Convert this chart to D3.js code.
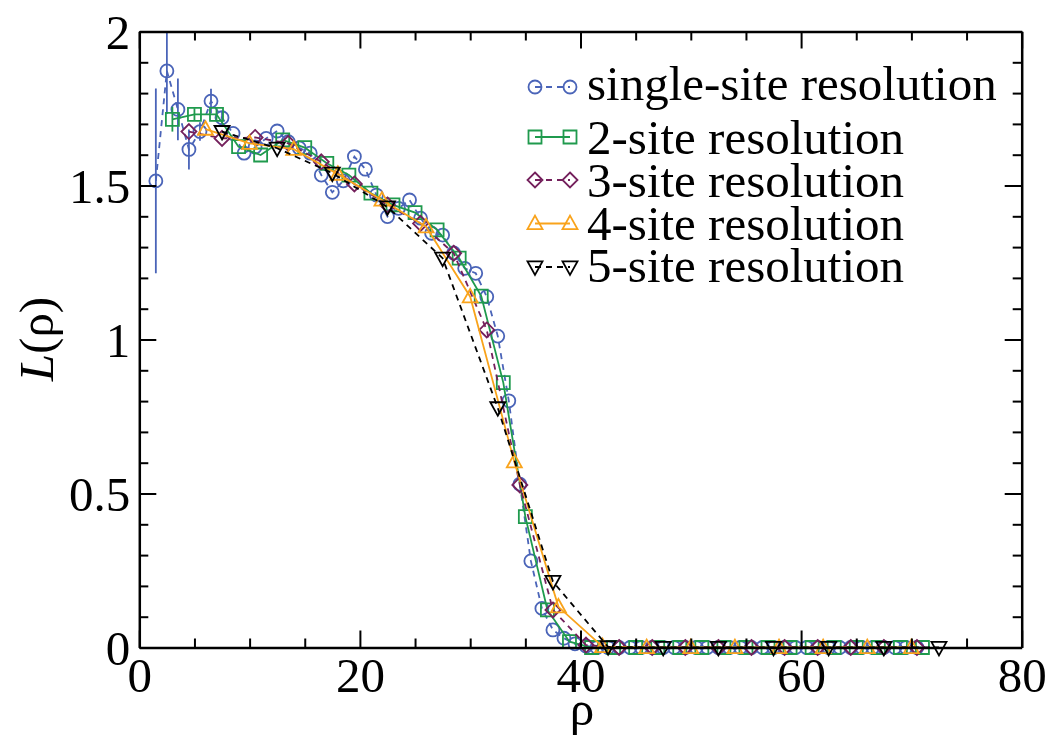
<!DOCTYPE html>
<html>
<head>
<meta charset="utf-8">
<script src="https://cdn.jsdelivr.net/npm/d3@7"></script>
<style>
  html, body { margin: 0; padding: 0; background: #fff; }
  svg { display: block; }
  text { font-family: "Liberation Serif", "Times New Roman", serif; fill: #000; }
</style>
</head>
<body>
<svg id="chart" width="1051" height="737"></svg>
<script>
// ---------------- data ----------------
const singleRho = [1.5,2.5,3.5,4.5,5.5,6.5,7.5,8.5,9.5,10.5,11.5,12.5,13.5,14.5,15.5,16.5,17.5,18.5,19.5,20.5,
  21.5,22.5,23.5,24.5,25.5,26.5,27.5,28.5,29.5,30.5,31.5,32.5,33.5,34.5,35.5,36.5,37.5,38.5,39.5,40.5,
  41.5,42.5,43.5,44.5,45.5,46.5,47.5,48.5,49.5,50.5,51.5,52.5,53.5,54.5,55.5,56.5,57.5,58.5,59.5,60.5,
  61.5,62.5,63.5,64.5,65.5,66.5,67.5,68.5,69.5,70.5];
const singleL = [1.515,1.872,1.747,1.617,1.675,1.774,1.720,1.669,1.605,1.625,1.653,1.677,1.642,1.622,1.605,1.534,1.478,1.515,1.594,1.553,
  1.469,1.399,1.426,1.453,1.394,1.345,1.339,1.281,1.231,1.215,1.139,1.011,0.801,0.530,0.281,0.127,0.057,0.030,0.012,0.005,
  0,0,0,0,0,0,0,0,0,0,0,0,0,0,0,0,0,0,0,0,
  0,0,0,0,0,0,0,0,0,0];
const singleErr = [0.30,0.14,0.10,0.065,0.03,0.04,0.02];

const twoRho = [3,5,7,9,11,13,15,17,19,21,23,25,27,29,31,33,35,37,39,41,43,45,47,49,51,53,55,57,59,61,63,65,67,69,71];
const twoL = [1.715,1.731,1.731,1.626,1.599,1.648,1.623,1.572,1.534,1.475,1.437,1.412,1.356,1.264,1.141,0.860,0.425,0.122,0.019,0,
  0,0,0,0,0,0,0,0,0,0,0,0,0,0,0];
const twoErr = [0.04,0.02,0.02];

const threeRho = [4.5,7.5,10.5,13.5,16.5,19.5,22.5,25.5,28.5,31.5,34.5,37.5,40.5,43.5,46.5,49.5,52.5,55.5,58.5,61.5,64.5,67.5,70.5];
const threeL = [1.675,1.653,1.656,1.637,1.577,1.505,1.437,1.377,1.280,1.031,0.528,0.122,0.008,0,0,0,0,0,0,0,0,0,0];

const fourRho = [6,10,14,18,22,26,30,34,38,42,46,50,54,58,62,66,70];
const fourL = [1.683,1.637,1.618,1.537,1.453,1.366,1.139,0.603,0.132,0.003,0,0,0,0,0,0,0];

const fiveRho = [7.5,12.5,17.5,22.5,27.5,32.5,37.5,42.5,47.5,52.5,57.5,62.5,67.5,72.5];
const fiveL = [1.675,1.621,1.540,1.430,1.264,0.778,0.214,0.002,0,0,0,0,0,0];

const seriesNames = ["single-site resolution","2-site resolution","3-site resolution","4-site resolution","5-site resolution"];

const xTickValues = [0,20,40,60,80];
const xTickLabels = ["0","20","40","60","80"];
const yTickValues = [0,0.5,1,1.5,2];
const yTickLabels = ["0","0.5","1","1.5","2"];

(function () {
// ---------------- setup ----------------
const svg = d3.select("#chart");
const x = d3.scaleLinear().domain([0,80]).range([139.3,1021.7]);
const y = d3.scaleLinear().domain([0,2]).range([647.5,31.5]);

const styles = [
  {color:"#4a64b8", dash:"6,5", shape:"circle"},
  {color:"#1f9a4d", dash:null,  shape:"square"},
  {color:"#74205c", dash:"6,5", shape:"diamond"},
  {color:"#f9a31b", dash:null,  shape:"triUp"},
  {color:"#000000", dash:"6,5", shape:"triDown"}
];

function shapePath(shape) {
  switch (shape) {
    case "circle": { const r = 6.5; return `M${r},0A${r},${r} 0 1,1 ${-r},0A${r},${r} 0 1,1 ${r},0Z`; }
    case "square": { const s = 6.5; return `M${-s},${-s}H${s}V${s}H${-s}Z`; }
    case "diamond": { const s = 7.5; return `M0,${-s}L${s},0L0,${s}L${-s},0Z`; }
    case "triUp": { const s = 7.5; return `M0,${-s*1.05}L${s},${s*0.75}L${-s},${s*0.75}Z`; }
    case "triDown": { const s = 7.5; return `M0,${s*1.05}L${s},${-s*0.75}L${-s},${-s*0.75}Z`; }
  }
}

const sets = [
  {rho: singleRho, L: singleL, err: singleErr},
  {rho: twoRho, L: twoL, err: twoErr},
  {rho: threeRho, L: threeL, err: []},
  {rho: fourRho, L: fourL, err: []},
  {rho: fiveRho, L: fiveL, err: []}
];

const line = d3.line().x(d => x(d[0])).y(d => y(d[1]));
const dataG = svg.append("g");

sets.forEach((s, i) => {
  const st = styles[i];
  const pts = s.rho.map((r, j) => [r, s.L[j], s.err[j] || 0]);
  const g = dataG.append("g");
  g.append("path").datum(pts)
    .attr("d", line)
    .attr("fill", "none")
    .attr("stroke", st.color)
    .attr("stroke-width", 1.8)
    .attr("stroke-dasharray", st.dash);
  g.selectAll("line.err").data(pts.filter(p => p[2] > 0)).enter().append("line")
    .attr("x1", d => x(d[0])).attr("x2", d => x(d[0]))
    .attr("y1", d => y(Math.min(2, d[1] + d[2])))
    .attr("y2", d => y(Math.max(0, d[1] - d[2])))
    .attr("stroke", st.color).attr("stroke-width", 1.8);
  g.selectAll("path.sym").data(pts).enter().append("path")
    .attr("class", "sym")
    .attr("d", shapePath(st.shape))
    .attr("transform", d => `translate(${x(d[0])},${y(d[1])})`)
    .attr("fill", "none")
    .attr("stroke", st.color)
    .attr("stroke-width", 1.8);
});

// ---------------- axes ----------------
const fontSize = 49;
const majorLen = 17, minorLen = 9;
const xMinor = d3.range(0, 81, 5).filter(v => !xTickValues.includes(v));
const yMinor = d3.range(0, 21, 1).map(v => v / 10).filter(v => !yTickValues.some(t => Math.abs(t - v) < 1e-9));

function styleAxis(g) {
  g.select(".domain").attr("stroke", "#000").attr("stroke-width", 2.5);
  g.selectAll(".tick line").attr("stroke", "#000").attr("stroke-width", 2);
  g.selectAll(".tick text").style("font-family", "'Liberation Serif', 'Times New Roman', serif")
    .attr("font-size", fontSize).attr("fill", "#000");
}

// bottom
const axB = svg.append("g").attr("transform", `translate(0,${y(0)})`)
  .call(d3.axisBottom(x).tickValues(xTickValues).tickFormat((d, i) => xTickLabels[i])
    .tickSize(-majorLen).tickSizeOuter(0).tickPadding(10));
styleAxis(axB);
axB.selectAll(".tick text").attr("y", 10).attr("dy", "0.71em");
const axBm = svg.append("g").attr("transform", `translate(0,${y(0)})`)
  .call(d3.axisBottom(x).tickValues(xMinor).tickFormat("").tickSize(-minorLen).tickSizeOuter(0));
styleAxis(axBm);
axBm.select(".domain").remove();

// top
const axT = svg.append("g").attr("transform", `translate(0,${y(2)})`)
  .call(d3.axisTop(x).tickValues(xTickValues).tickFormat("").tickSize(-majorLen).tickSizeOuter(0));
styleAxis(axT);
const axTm = svg.append("g").attr("transform", `translate(0,${y(2)})`)
  .call(d3.axisTop(x).tickValues(xMinor).tickFormat("").tickSize(-minorLen).tickSizeOuter(0));
styleAxis(axTm);
axTm.select(".domain").remove();

// left
const axL = svg.append("g").attr("transform", `translate(${x(0)},0)`)
  .call(d3.axisLeft(y).tickValues(yTickValues).tickFormat((d, i) => yTickLabels[i])
    .tickSize(-majorLen).tickSizeOuter(0).tickPadding(9));
styleAxis(axL);
axL.selectAll(".tick text").attr("x", -9).attr("dy", "0.34em");
const axLm = svg.append("g").attr("transform", `translate(${x(0)},0)`)
  .call(d3.axisLeft(y).tickValues(yMinor).tickFormat("").tickSize(-minorLen).tickSizeOuter(0));
styleAxis(axLm);
axLm.select(".domain").remove();

// right
const axR = svg.append("g").attr("transform", `translate(${x(80)},0)`)
  .call(d3.axisRight(y).tickValues(yTickValues).tickFormat("").tickSize(-majorLen).tickSizeOuter(0));
styleAxis(axR);
const axRm = svg.append("g").attr("transform", `translate(${x(80)},0)`)
  .call(d3.axisRight(y).tickValues(yMinor).tickFormat("").tickSize(-minorLen).tickSizeOuter(0));
styleAxis(axRm);
axRm.select(".domain").remove();

// axis titles
svg.append("text")
  .attr("x", 582).attr("y", 725)
  .attr("text-anchor", "middle")
  .attr("font-size", fontSize)
  .text("ρ");

const yTitle = svg.append("text")
  .attr("transform", "translate(53,339) rotate(-90)")
  .attr("text-anchor", "middle")
  .attr("font-size", fontSize);
yTitle.append("tspan").attr("font-style", "italic").text("L");
yTitle.append("tspan").text("(ρ)");

// ---------------- legend ----------------
const legendMarkerY = [87, 137, 180, 223.5, 267];
const legendTextY = [100, 154, 197, 240, 282];
const legX1 = 535, legX2 = 570, legTextX = 587;
const legend = svg.append("g");
seriesNames.forEach((name, i) => {
  const st = styles[i];
  const ly = legendMarkerY[i];
  legend.append("line")
    .attr("x1", legX1).attr("x2", legX2).attr("y1", ly).attr("y2", ly)
    .attr("stroke", st.color).attr("stroke-width", 1.8)
    .attr("stroke-dasharray", st.dash);
  [legX1, legX2].forEach(lx => {
    legend.append("path")
      .attr("d", shapePath(st.shape))
      .attr("transform", `translate(${lx},${ly})`)
      .attr("fill", "none").attr("stroke", st.color).attr("stroke-width", 1.8);
  });
  legend.append("text")
    .attr("x", legTextX).attr("y", legendTextY[i])
    .attr("font-size", fontSize)
    .text(name);
});
})();
</script>
</body>
</html>
